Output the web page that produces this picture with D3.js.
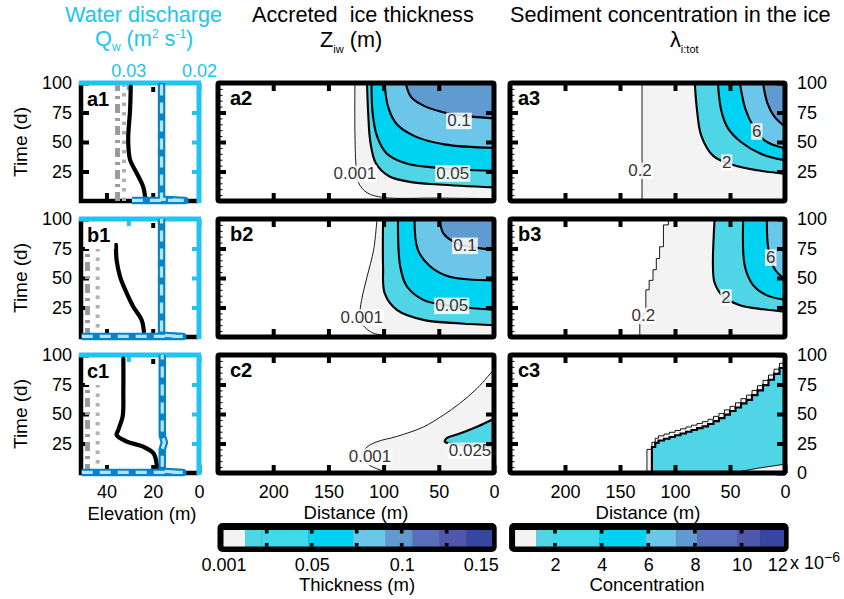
<!DOCTYPE html>
<html><head><meta charset="utf-8">
<script src="https://cdn.jsdelivr.net/npm/d3@7"></script>
<style>
body{margin:0;background:#fff}
text{font-family:"Liberation Sans",Arial,Helvetica,sans-serif}
</style></head><body>
<svg id="chart" width="844" height="599"></svg>
<script>
// ===== values =====
// ticks
const distTicks = [200, 150, 100, 50];
const distLabels = [200, 150, 100, 50, 0];
const timeLabels = [100, 75, 50, 25];
const timeTicks = [75, 50, 25];
const elevTicks = [40, 20];
const elevLabels = [40, 20, 0];
const qLabels = [0.03, 0.02];
const thickTicks = [0.025, 0.05, 0.075, 0.1, 0.125];
const thickLabels = [0.001, 0.05, 0.1, 0.15];
const concTicks = [2, 4, 6, 8, 10];
const concLabels = [2, 4, 6, 8, 10, 12];

// colour bars: band edges
const thickBreaks = [0.001, 0.013, 0.022, 0.048, 0.073, 0.091, 0.106, 0.121, 0.136, 0.15];
const concBreaks = [0.29, 1.2, 1.9, 3.9, 5.9, 7.2, 8.1, 9.8, 10.8, 11.8];
const bandColors = ["#f3f3f3", "#4fd5e6", "#3fd9eb", "#00d2f2", "#6cc6ea", "#5f9bd1", "#5a6fbb", "#4e57a9", "#3746a0"];

// column 1: [elevation m, time d] and [discharge m2/s, time d]
const a1Dash = [[35.2, 0], [35.2, 98]];
const a1Dot = [[32.4, 0], [32.4, 98]];
const a1Elev = [[29.5, 97], [29.8, 77], [30.6, 52], [29.8, 35], [26.9, 23.5], [24.1, 12], [23.3, 3.5]];
const a1Q = [[0.0295, 0.5], [0.0220, 0.5], [0.0253, 1.5], [0.0253, 100]];
const b1Dash = [[48.2, 0], [48.2, 77]];
const b1Dot = [[43.8, 0], [43.8, 77]];
const b1Elev = [[35.9, 78], [35.6, 65], [34.1, 51], [31.2, 37], [28.4, 25.7], [24.8, 14.4], [23.8, 4.5]];
const b1Q = [[0.0366, 0.5], [0.0223, 0.5], [0.0253, 1.5], [0.0253, 100]];
const c1Dash = [[48.2, 0], [48.2, 79]];
const c1Dot = [[43.8, 0], [43.8, 79]];
const c1Elev = [[32.7, 97], [32.7, 70], [33.0, 48], [34.9, 36.4], [35.6, 32.2], [31.2, 26.6], [24.1, 22.3], [19.7, 16.7], [18.3, 8.2], [18.0, 2.5]];
const c1Q = [[0.0366, 0.5], [0.0223, 0.5], [0.0252, 1.5], [0.0252, 20], [0.0249, 26], [0.0252, 32], [0.0252, 100]];

// column 2: accreted ice thickness contours, [distance m, time d]
const a2C001 = [[126, 100], [126, 60], [125, 30], [123, 16], [115, 7], [100, 3], [50, 2.5], [0, 2]];
const a2C025 = [[115, 100], [114, 75], [112, 50], [107, 32], [95, 21], [75, 16], [50, 14], [0, 11.5]];
const a2C050 = [[111, 100], [110, 75], [106, 55], [97, 40], [80, 32], [50, 28], [0, 25.5]];
const a2C075 = [[99, 100], [96, 80], [88, 65], [72, 55], [45, 48], [0, 45]];
const a2C100 = [[80, 100], [75, 88], [62, 80], [40, 74], [20, 71.5], [0, 70]];
const a2Text = [["0.001", 126, 23.7], ["0.05", 37.4, 24], ["0.1", 31.7, 68.6]];

const b2C001 = [[106, 100], [109, 74], [115, 51], [120, 31], [121.5, 19], [120, 12], [112, 4.5], [100, 1.5], [0, 1]];
const b2C025 = [[100.5, 100], [100.5, 60], [99, 37], [88, 23], [64, 14.5], [30, 11.5], [0, 10]];
const b2C050 = [[87, 100], [85, 60], [79, 43], [64, 31.5], [40, 26.5], [0, 23]];
const b2C075 = [[72, 100], [69, 74], [58, 60], [40, 51], [0, 48]];
const b2C100 = [[49, 100], [46, 88], [34, 79.5], [15, 75.5], [0, 74]];
const b2Text = [["0.001", 119.8, 17.2], ["0.05", 38.3, 27.1], ["0.1", 26.3, 78]];

const c2C001 = [[0, 88], [15, 72], [31, 59], [46, 49], [64, 39], [88, 31], [106, 26.5], [115, 22], [120, 15], [115, 8], [103, 2.5], [92, 0]];
const c2C025 = [[0, 46], [16, 39], [31, 33.5], [43, 29.5], [44.5, 26.5], [40, 25], [25, 23.5], [0, 22]];
const c2Text = [["0.001", 112.3, 14.4], ["0.025", 21.7, 19.5]];

// column 3: sediment concentration contours (x 10^-6), [distance m, time d]
const a3C02 = [[130, 100], [130, 0]];
const a3C2 = [[82, 100], [80, 77], [76, 55], [65, 38], [47, 30.5], [25, 26], [0, 23]];
const a3C4 = [[61, 100], [58, 77], [52, 62], [40, 50], [22, 40], [0, 34.5]];
const a3C6 = [[41, 100], [36, 78], [28, 62], [18, 51], [0, 44.5]];
const a3C8 = [[20, 100], [16, 83], [10, 72], [0, 63]];
const a3Text = [["0.2", 131.8, 26.3], ["2", 53, 33.3], ["6", 25.7, 59.6]];

const b3C02 = [[106, 100], [110.5, 95], [114, 76.5], [117, 66.5], [120, 57], [123.5, 48], [126.5, 40], [129, 20], [132, 13], [132, 0]];
const b3C2 = [[64, 100], [65.5, 60], [64, 46], [56, 34], [41, 27], [20, 23.5], [0, 21.5]];
const b3C4 = [[38, 100], [36.5, 60], [29, 44], [17, 35.5], [0, 31.5]];
const b3C6 = [[16.5, 100], [15, 74], [9, 57], [0, 49]];
const b3Text = [["0.2", 128.8, 18.6], ["2", 53.6, 34.2], ["6", 13, 68]];

const c3C02 = [[0, 93], [5, 88], [10, 83], [15, 78.5], [20, 74], [25, 70], [30, 66], [35, 63], [40, 59.5], [45, 56.5], [50, 53.5], [55, 50.5], [60, 48], [65, 45.5], [70, 43.5], [75, 42], [80, 40.5], [85, 39], [90, 37.5], [95, 36], [100, 34.5], [105, 33], [110, 31.5], [115, 29.5], [118, 26], [121, 20], [125.5, 16], [125.5, 0]];
const c3C2 = [[0, 89], [5, 84], [10, 79], [15, 74.5], [20, 70], [25, 66], [30, 62], [35, 59], [40, 55.5], [45, 52.5], [50, 49.5], [55, 46.5], [60, 44], [65, 41.5], [70, 39.5], [75, 38], [80, 36.5], [85, 35], [90, 33.5], [95, 32], [100, 30.5], [105, 29], [110, 27.5], [115, 25.5], [118, 22], [121, 16], [121, 0]];
const c3Low = [[48, 0], [25, 4], [0, 7.5]];

// ===== layout =====
const FONT = '"Liberation Sans", Arial, Helvetica, sans-serif';
const CYAN = "#20c4ef";
const svg = d3.select("#chart");
const defs = svg.append("defs");

const cols = [{x0: 81, x1: 199}, {x0: 218, x1: 494}, {x0: 510, x1: 785}];
const rows = [{y0: 83, y1: 201}, {y0: 219, y1: 337}, {y0: 355, y1: 473}];

const xDist = [d3.scaleLinear().domain([250, 0]).range([218, 494]),
               d3.scaleLinear().domain([250, 0]).range([510, 785])];
const xElev = d3.scaleLinear().domain([51, 0]).range([81, 199]);
const xQ = d3.scaleLinear().domain([0.0367, 0.02]).range([81, 199]);
const yTime = rows.map(r => d3.scaleLinear().domain([0, 100]).range([r.y1, r.y0]));
const xThick = d3.scaleLinear().domain([0, 0.15]).range([221.7, 491.7]);
const xConc = d3.scaleLinear().domain([0, 12]).range([508.3, 788.3]);

const smooth = d3.curveCatmullRom.alpha(0.5);

function styleAxis(ga, color, w, textColor) {
  ga.attr("font-family", FONT).attr("font-size", 18).attr("color", color);
  ga.select(".domain").remove();
  ga.selectAll(".tick line").attr("stroke-width", w);
  ga.selectAll(".tick text").attr("fill", textColor || "#000");
  return ga;
}

function panelLabel(x, y, txt, box) {
  const t = svg.append("text").attr("x", x).attr("y", y).attr("font-size", 20)
    .attr("font-weight", "bold").attr("fill", "#000").text(txt);
  if (box) {
    const bb = t.node().getBBox();
    svg.insert("rect", () => t.node()).attr("x", bb.x - 2).attr("y", bb.y - 1)
      .attr("width", bb.width + 6).attr("height", bb.height + 4).attr("fill", "#fff");
  }
}

// ===== column 1 =====
function drawCol1(ri, dash, dot, elev, q, name, box) {
  const r = rows[ri], c = cols[0], y = yTime[ri];
  const g = svg.append("g");
  // black axes (elevation / time)
  g.append("line").attr("x1", c.x0).attr("x2", c.x0).attr("y1", r.y0).attr("y2", r.y1 + 2)
    .attr("stroke", "#000").attr("stroke-width", 4.5);
  g.append("line").attr("x1", c.x0 - 2).attr("x2", c.x1).attr("y1", r.y1).attr("y2", r.y1)
    .attr("stroke", "#000").attr("stroke-width", 4.5);
  styleAxis(g.append("g").attr("transform", `translate(${c.x0},0)`)
    .call(d3.axisLeft(y).tickValues(timeLabels).tickSize(-8).tickPadding(9)), "#000", 4);
  styleAxis(g.append("g").attr("transform", `translate(0,${r.y1})`)
    .call(d3.axisBottom(xElev).tickValues(ri === 2 ? elevLabels : elevTicks).tickSize(-8).tickPadding(12)
      .tickFormat(ri === 2 ? d3.format("d") : "")), "#000", 4);
  styleAxis(g.append("g").attr("transform", `translate(0,${r.y0 + 4})`)
    .call(d3.axisTop(xElev).tickValues([20]).tickSize(-5).tickFormat("")), "#000", 4);
  // cyan axes (discharge)
  g.append("line").attr("x1", c.x0 - 2).attr("x2", c.x1 + 2).attr("y1", r.y0).attr("y2", r.y0)
    .attr("stroke", CYAN).attr("stroke-width", 5);
  g.append("line").attr("x1", c.x1).attr("x2", c.x1).attr("y1", r.y0).attr("y2", r.y1 + 2)
    .attr("stroke", CYAN).attr("stroke-width", 5);
  styleAxis(g.append("g").attr("transform", `translate(${c.x1},0)`)
    .call(d3.axisRight(y).tickValues(timeTicks).tickSize(-7).tickFormat("")), CYAN, 4);
  styleAxis(g.append("g").attr("transform", `translate(0,${r.y0})`)
    .call(d3.axisTop(xQ).tickValues(qLabels).tickSize(-7).tickPadding(6)
      .tickFormat(ri === 0 ? d3.format(".2f") : "")), CYAN, 4, CYAN);

  const le = d3.line().x(p => xElev(p[0])).y(p => y(p[1]));
  const lq = d3.line().x(p => xQ(p[0])).y(p => y(p[1]));
  g.append("path").attr("d", le(dash)).attr("fill", "none").attr("stroke", "#9a9a9a")
    .attr("stroke-width", 5).attr("stroke-dasharray", "9,5,3,5");
  g.append("path").attr("d", le(dot)).attr("fill", "none").attr("stroke", "#b0b0b0")
    .attr("stroke-width", 4).attr("stroke-dasharray", "3.5,6");
  g.append("path").attr("d", le.curve(smooth)(elev)).attr("fill", "none").attr("stroke", "#000")
    .attr("stroke-width", 4.2).attr("stroke-linecap", "round");
  g.append("path").attr("d", lq(q)).attr("fill", "none").attr("stroke", "#0a82c8")
    .attr("stroke-width", 7.5).attr("stroke-linejoin", "round");
  g.append("path").attr("d", lq(q)).attr("fill", "none").attr("stroke", "#b0e7f8")
    .attr("stroke-width", 3.2).attr("stroke-dasharray", "11,7");
  panelLabel(c.x0 + 6, r.y0 + 23, name, box);
}

drawCol1(0, a1Dash, a1Dot, a1Elev, a1Q, "a1", false);
drawCol1(1, b1Dash, b1Dot, b1Elev, b1Q, "b1", true);
drawCol1(2, c1Dash, c1Dot, c1Elev, c1Q, "c1", true);

// ===== contour panels =====
function drawPanel(ri, ci, contours, texts, name) {
  const r = rows[ri], c = cols[ci + 1], x = xDist[ci], y = yTime[ri];
  const id = "clip" + ri + ci;
  defs.append("clipPath").attr("id", id).append("rect")
    .attr("x", c.x0).attr("y", r.y0).attr("width", c.x1 - c.x0).attr("height", r.y1 - r.y0);
  const g = svg.append("g").attr("clip-path", `url(#${id})`);
  const gen = cv => d3.line().x(p => x(p[0])).y(p => y(p[1])).curve(cv);

  contours.forEach(k => {
    let d = gen(k.curve || smooth)(k.pts);
    (k.close || []).forEach(p => { d += "L" + x(p[0]) + "," + y(p[1]); });
    g.append("path").attr("d", d + "Z").attr("fill", k.fill);
  });
  contours.forEach(k => {
    g.append("path").attr("d", gen(k.curve || smooth)(k.pts)).attr("fill", "none")
      .attr("stroke", "#000").attr("stroke-width", k.thin ? 0.9 : 2.1);
  });
  texts.forEach(l => {
    const t = g.append("text").attr("x", x(l[1])).attr("y", y(l[2])).attr("dy", "0.36em")
      .attr("text-anchor", "middle").attr("font-size", 17).attr("fill", "#3b3434").text(l[0]);
    const bb = t.node().getBBox();
    g.insert("rect", () => t.node()).attr("x", bb.x - 1).attr("y", bb.y + 1.5)
      .attr("width", bb.width + 2).attr("height", bb.height - 2.5).attr("fill", "#fff").attr("opacity", 0.85);
  });

  // frame and ticks
  svg.append("rect").attr("x", c.x0).attr("y", r.y0).attr("width", c.x1 - c.x0)
    .attr("height", r.y1 - r.y0).attr("fill", "none").attr("stroke", "#000").attr("stroke-width", 5).attr("rx", 1.5);
  const ax = svg.append("g");
  styleAxis(ax.append("g").attr("transform", `translate(0,${r.y0})`)
    .call(d3.axisTop(x).tickValues(distTicks).tickSize(-8).tickFormat("")), "#000", 4);
  styleAxis(ax.append("g").attr("transform", `translate(0,${r.y1})`)
    .call(d3.axisBottom(x).tickValues(ri === 2 ? distLabels : distTicks).tickSize(-8).tickPadding(12)
      .tickFormat(ri === 2 ? d3.format("d") : "")), "#000", 4);
  styleAxis(ax.append("g").attr("transform", `translate(${c.x0},0)`)
    .call(d3.axisLeft(y).tickValues(timeTicks).tickSize(-8).tickFormat("")), "#000", 4);
  styleAxis(ax.append("g").attr("transform", `translate(${c.x0},0)`)
    .call(d3.axisLeft(y).tickValues(d3.range(5, 100, 5)).tickSize(-4.5).tickFormat("")), "#000", 1);
  const rightVals = ci === 1 ? (ri === 2 ? [100, 75, 50, 25, 0] : timeLabels) : timeTicks;
  styleAxis(ax.append("g").attr("transform", `translate(${c.x1},0)`)
    .call(d3.axisRight(y).tickValues(rightVals).tickSize(-8).tickPadding(12)
      .tickFormat(ci === 1 ? d3.format("d") : "")), "#000", 4);
  panelLabel(c.x0 + (ci === 0 ? 12 : 8), r.y0 + 22, name, false);
}

const B = bandColors;
const toCorner = [[0, 100]];
drawPanel(0, 0, [
  {pts: a2C001, close: toCorner, fill: B[0], thin: true},
  {pts: a2C025, close: toCorner, fill: B[1]},
  {pts: a2C050, close: toCorner, fill: B[3]},
  {pts: a2C075, close: toCorner, fill: B[4]},
  {pts: a2C100, close: toCorner, fill: B[5]}
], a2Text, "a2");
drawPanel(1, 0, [
  {pts: b2C001, close: toCorner, fill: B[0], thin: true},
  {pts: b2C025, close: toCorner, fill: B[1]},
  {pts: b2C050, close: toCorner, fill: B[3]},
  {pts: b2C075, close: toCorner, fill: B[4]},
  {pts: b2C100, close: toCorner, fill: B[5]}
], b2Text, "b2");
drawPanel(2, 0, [
  {pts: c2C001, close: [[0, 0]], fill: B[0], thin: true},
  {pts: c2C025, close: [], fill: B[1]}
], c2Text, "c2");
drawPanel(0, 1, [
  {pts: a3C02, close: [[0, 0], [0, 100]], fill: B[0], thin: true},
  {pts: a3C2, close: toCorner, fill: B[1]},
  {pts: a3C4, close: toCorner, fill: B[3]},
  {pts: a3C6, close: toCorner, fill: B[4]},
  {pts: a3C8, close: toCorner, fill: B[5]}
], a3Text, "a3");
drawPanel(1, 1, [
  {pts: b3C02, close: [[0, 0], [0, 100]], fill: B[0], thin: true, curve: d3.curveStepBefore},
  {pts: b3C2, close: toCorner, fill: B[1]},
  {pts: b3C4, close: toCorner, fill: B[3]},
  {pts: b3C6, close: toCorner, fill: B[4]}
], b3Text, "b3");
drawPanel(2, 1, [
  {pts: c3C02, close: [[0, 0]], fill: B[0], thin: true, curve: d3.curveStepAfter},
  {pts: c3C2, close: [[0, 0]], fill: B[1], curve: d3.curveStepAfter},
  {pts: c3Low, close: [[0, 0]], fill: B[0], thin: true, curve: d3.curveLinear}
], [], "c3");

// ===== axis titles =====
function label(x, y, txt, opts) {
  const t = svg.append("text").attr("x", x).attr("y", y).attr("font-size", (opts && opts.size) || 18.5)
    .attr("fill", "#000").attr("text-anchor", "middle").text(txt);
  if (opts && opts.rotate) t.attr("transform", `rotate(-90,${x},${y})`);
  return t;
}
rows.forEach(r => label(27, (r.y0 + r.y1) / 2, "Time (d)", {rotate: true, size: 19}));
label(142, 520, "Elevation (m)", {size: 18.5});
label(356, 519, "Distance (m)", {size: 18.5});
label(648, 519, "Distance (m)", {size: 18.5});

// titles
svg.append("text").attr("x", 65).attr("y", 22).attr("font-size", 21.7).attr("fill", CYAN).text("Water discharge");
const q = svg.append("text").attr("x", 95).attr("y", 46).attr("font-size", 21.7).attr("fill", CYAN);
q.append("tspan").text("Q");
q.append("tspan").attr("font-size", 12).attr("dy", 5).text("w");
q.append("tspan").attr("dy", -5).text(" (m");
q.append("tspan").attr("font-size", 12).attr("dy", -8).text("2");
q.append("tspan").attr("dy", 8).text(" s");
q.append("tspan").attr("font-size", 12).attr("dy", -8).text("-1");
q.append("tspan").attr("dy", 8).text(")");

svg.append("text").attr("x", 252).attr("y", 22).attr("font-size", 21.7).attr("fill", "#000")
  .style("white-space", "pre").text("Accreted  ice thickness");
const z = svg.append("text").attr("x", 320).attr("y", 47).attr("font-size", 21.7).attr("fill", "#000");
z.append("tspan").text("Z");
z.append("tspan").attr("font-size", 11).attr("dy", 6).text("iw");
z.append("tspan").attr("dy", -6).text(" (m)");

svg.append("text").attr("x", 510).attr("y", 22).attr("font-size", 21.7).attr("fill", "#000")
  .text("Sediment concentration in the ice");
const lam = svg.append("text").attr("x", 670).attr("y", 47).attr("font-size", 21.7).attr("fill", "#000");
lam.append("tspan").text("λ");
lam.append("tspan").attr("font-size", 11).attr("dy", 6).text("i:tot");

// ===== colour bars =====
function drawColorbar(scale, breaks, ticks, labels, fmt, title, tx) {
  const x0 = scale(breaks[0]) - 6, x1 = scale(breaks[breaks.length - 1]) + 5;
  svg.append("rect").attr("x", x0).attr("y", 523).attr("width", x1 - x0).attr("height", 29)
    .attr("rx", 5).attr("fill", "#000");
  svg.append("g").selectAll("rect").data(d3.pairs(breaks)).join("rect")
    .attr("x", d => scale(d[0])).attr("width", d => scale(d[1]) - scale(d[0]) + 0.4)
    .attr("y", 530).attr("height", 16.5).attr("fill", (d, i) => bandColors[i]);
  const n = svg.append("g");
  n.selectAll(".top").data(ticks).join("rect").attr("x", d => scale(d) - 1.8).attr("width", 3.6)
    .attr("y", 530).attr("height", 3.5).attr("fill", "#000");
  n.selectAll(".bot").data(ticks).join("rect").attr("x", d => scale(d) - 1.8).attr("width", 3.6)
    .attr("y", 543).attr("height", 3.5).attr("fill", "#000");
  const ga = styleAxis(svg.append("g").attr("transform", "translate(0,552)")
    .call(d3.axisBottom(scale).tickValues(labels).tickSize(0).tickPadding(6).tickFormat(fmt)), "#000", 0);
  ga.selectAll(".tick text").filter((d, i, a) => i === a.length - 1).attr("dx", -11);
  label(tx, 591, title, {size: 18.5});
}
drawColorbar(xThick, thickBreaks, thickTicks, thickLabels, d => String(d), "Thickness (m)", 357);
drawColorbar(xConc, concBreaks, concTicks, concLabels, d3.format("d"), "Concentration", 647);
const ex = svg.append("text").attr("x", 790).attr("y", 569).attr("font-size", 18).attr("fill", "#000");
ex.append("tspan").text("x 10");
ex.append("tspan").attr("font-size", 14).attr("dy", -7).text("−6");
</script>
</body></html>
